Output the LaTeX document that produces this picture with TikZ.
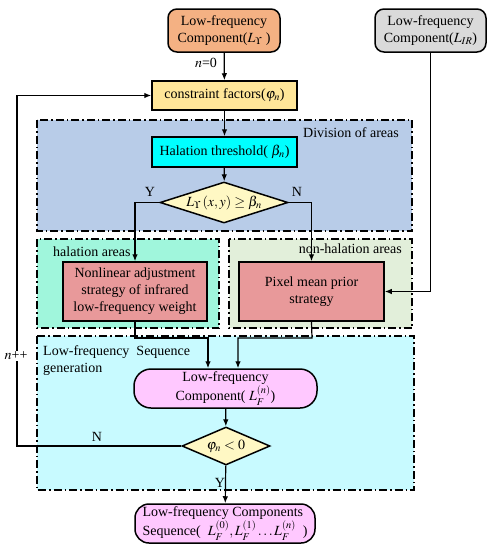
\documentclass[tikz,border=0pt]{standalone}
\usepackage{mathptmx}
\usepackage{fontspec}
\setmainfont{Liberation Serif}
\usetikzlibrary{shapes.geometric,arrows.meta,calc}
\definecolor{corange}{HTML}{F4B183}
\definecolor{cgray}{HTML}{DADADA}
\definecolor{cyel}{HTML}{FFE699}
\definecolor{cdiv}{HTML}{B8CCE8}
\definecolor{ccyan}{HTML}{00FFFF}
\definecolor{cdia}{HTML}{FFF8C4}
\definecolor{chal}{HTML}{A0F6DC}
\definecolor{cnon}{HTML}{E2EFDA}
\definecolor{cbox}{HTML}{E8999A}
\definecolor{cseq}{HTML}{C8FAFF}
\definecolor{cpink}{HTML}{FFC8FF}
\begin{document}
\begin{tikzpicture}[x=1pt,y=-1pt,
  every node/.style={font=\fontsize{14}{17}\selectfont},
  box/.style={draw,line width=1.5pt,align=center,inner sep=0pt},
  rbox/.style={box,rounded corners=9pt},
  pill/.style={box,rounded corners=17pt},
  dia/.style={diamond,draw,line width=1.5pt,fill=cdia,inner sep=0pt},
  region/.style={line width=1.1pt,dash pattern=on 8pt off 3pt on 1.5pt off 3pt},
  arr/.style={line width=1.2pt,-{Latex[length=7pt,width=5.5pt]}},
  lbl/.style={inner sep=0pt}]
\useasboundingbox (0,0) rectangle (494,550);
% regions
\filldraw[region,fill=cdiv] (37,120) rectangle (412,231);
\filldraw[region,fill=chal] (37,239) rectangle (219,328);
\filldraw[region,fill=cnon] (229,239) rectangle (412,328);
\filldraw[region,fill=cseq] (37,336) rectangle (414,490);
\node[lbl,anchor=east] (tdiv) at (399,133) {Division of areas};
\node[lbl,anchor=west] (thal) at (53,252) {halation areas};
\node[lbl,anchor=east] (tnon) at (402,249) {non-halation areas};
\node[lbl,anchor=north west,align=left] (tseq) at (43,345) {Low-frequency\ \ Sequence\\generation};
% nodes
\node[rbox,fill=corange,minimum width=112,minimum height=43] (ly) at (224,30.5) {Low-frequency\\Component($L_{\Upsilon}$ )};
\node[rbox,fill=cgray,minimum width=111,minimum height=43] (lir) at (430.5,30.5) {Low-frequency\\Component($L_{IR}$)};
\node[box,fill=cyel,minimum width=145,minimum height=29] (cf) at (224.5,95.5) {constraint factors($\varphi_n$)};
\node[box,fill=ccyan,minimum width=145,minimum height=30] (ht) at (224.5,152) {Halation threshold( $\beta_n$)};
\node[dia,minimum width=128,minimum height=41] (d1) at (224,202.5) {};
\node[lbl] (d1t) at (d1) {$L_{\Upsilon}\,(x,y)\geq\beta_n$};
\node[box,fill=cbox,minimum width=144,minimum height=59] (nl) at (135,291.5) {Nonlinear adjustment\\strategy of infrared\\low-frequency weight};
\node[box,fill=cbox,minimum width=145,minimum height=59] (px) at (311.5,291.5) {Pixel mean prior\\strategy};
\node[pill,fill=cpink,minimum width=183,minimum height=39] (lf) at (225.5,388.5) {Low-frequency\\Component( $L_F^{(n)}$)};
\node[dia,minimum width=88,minimum height=38] (d2) at (226,446) {};
\node[lbl] (d2t) at (d2) {$\varphi_n<0$};
\node[pill,fill=cpink,minimum width=180,minimum height=39,rounded corners=14pt,align=left] (fin) at (225,523.5) {Low-frequency Components\\Sequence(\ \ $L_F^{(0)},L_F^{(1)}\ldots L_F^{(n)}$\ \ )};
% connectors
\draw[arr] (ly) -- (cf);
\node[lbl] (n0) at (206,63) {$n$=0};
\draw[arr] (cf) -- (ht);
\draw[arr] (ht) -- (d1);
\draw[arr] (d1.west) -| (nl.north);
\draw[arr] (d1.east) -| (px.north);
\node[lbl] (ty) at (150,192) {Y};
\node[lbl] (tn) at (297,192) {N};
\draw[arr] (lir.south) |- (px.east);
\coordinate (j1) at (135,338);
\coordinate (j2) at (312,338);
\draw[arr] (nl.south) -- (j1) -| ([xshift=-17.5pt]lf.north);
\draw[arr] (px.south) -- (j2) -| ([xshift=12.5pt]lf.north);
\draw[arr] (lf) -- (d2);
\draw[arr] (d2) -- (fin);
\node[lbl] (ty2) at (220,483) {Y};
\coordinate (lp) at (17,446);
\draw[arr] (d2.west) -- (lp) |- (cf.west);
\node[lbl] (tn2) at (97,437) {N};
\node[lbl,fill=white,inner sep=1pt] (npp) at (16,356) {$n$++};
\end{tikzpicture}
\end{document}
